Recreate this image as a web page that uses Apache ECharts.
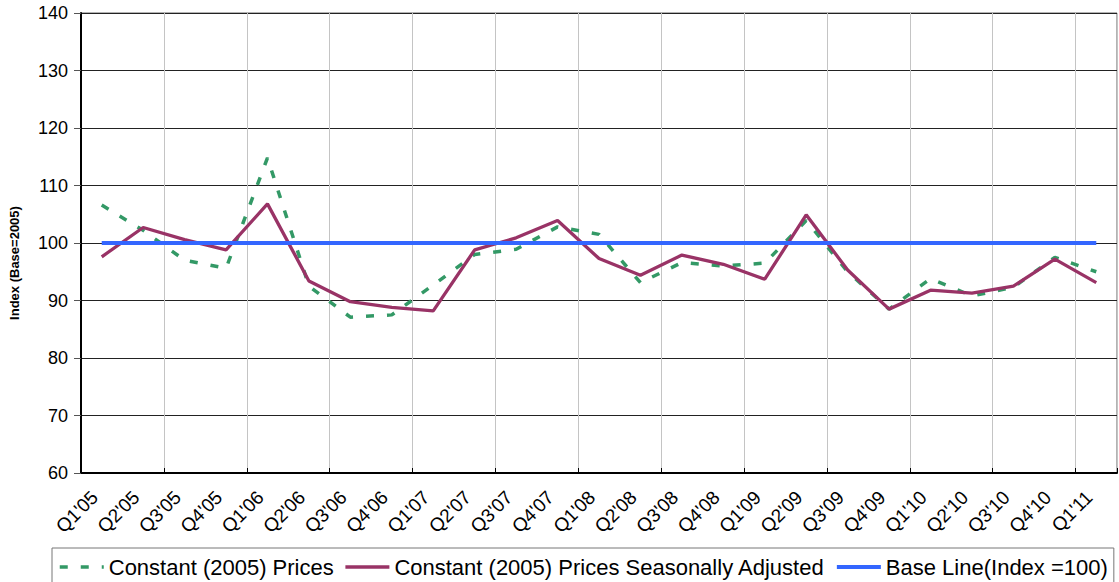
<!DOCTYPE html>
<html>
<head>
<meta charset="utf-8">
<script src="https://cdn.jsdelivr.net/npm/echarts@6/dist/echarts.min.js"></script>
<style>
  html, body { margin: 0; padding: 0; background: #fff; }
  #chart { width: 1119px; height: 582px; }
</style>
</head>
<body>
<div id="chart"></div>
<script>
// Quarterly price index, 2005 = 100
const quarters = [
  "Q1'05", "Q2'05", "Q3'05", "Q4'05",
  "Q1'06", "Q2'06", "Q3'06", "Q4'06",
  "Q1'07", "Q2'07", "Q3'07", "Q4'07",
  "Q1'08", "Q2'08", "Q3'08", "Q4'08",
  "Q1'09", "Q2'09", "Q3'09", "Q4'09",
  "Q1'10", "Q2'10", "Q3'10", "Q4'10",
  "Q1'11"
];

const constantPrices = [
  106.6, 102.2, 97.0, 95.6,
  114.8, 92.5, 87.1, 87.5,
  92.7, 98.0, 98.9, 102.8,
  101.5, 93.1, 96.6, 96.0,
  96.5, 103.9, 95.0, 88.5,
  93.8, 90.8, 92.3, 97.5,
  95.0
];

const seasonallyAdjusted = [
  97.6, 102.7, 100.6, 98.8,
  106.8, 93.4, 89.8, 88.8,
  88.2, 98.8, 100.9, 103.9,
  97.3, 94.4, 97.9, 96.3,
  93.7, 104.9, 95.3, 88.5,
  91.8, 91.3, 92.5, 97.2,
  93.1
];

const baseLineValue = 100;
const baseLine = quarters.map(() => baseLineValue);

const yTicks = { min: 60, max: 140, step: 10 };

const FONT = "'Liberation Sans', Arial, sans-serif";

const chart = echarts.init(document.getElementById('chart'), null, { renderer: 'svg' });

chart.setOption({
  animation: false,
  backgroundColor: '#ffffff',
  textStyle: { fontFamily: FONT, color: '#000' },
  grid: {
    left: 81, right: 2, top: 13, bottom: 109,
    show: true,
    borderColor: '#666',
    borderWidth: 1,
    containLabel: false
  },
  legend: {
    left: 52,
    top: 548,
    padding: [8, 6, 12, 6],
    borderColor: '#777',
    borderWidth: 1,
    itemWidth: 44,
    itemHeight: 14,
    itemGap: 10,
    // line samples only, no point markers
    itemStyle: { opacity: 0 },
    lineStyle: { width: 'inherit' },
    textStyle: { fontFamily: FONT, fontSize: 22, color: '#000' },
    data: [
      'Constant (2005) Prices',
      'Constant (2005) Prices Seasonally Adjusted',
      'Base Line(Index =100)'
    ]
  },
  xAxis: {
    type: 'category',
    data: quarters,
    boundaryGap: true,
    axisLine: { lineStyle: { color: '#000', width: 2 } },
    axisTick: { show: true, inside: true, length: 5, interval: 1, lineStyle: { color: '#000' } },
    axisLabel: {
      interval: 0,
      rotate: 45,
      margin: 14,
      padding: [0, 10, 0, 0],
      fontFamily: FONT,
      fontSize: 19,
      color: '#000'
    },
    splitLine: { show: true, interval: 1, lineStyle: { color: '#c4c4c4', width: 1 } }
  },
  yAxis: {
    type: 'value',
    min: yTicks.min,
    max: yTicks.max,
    interval: yTicks.step,
    name: 'Index (Base=2005)',
    nameLocation: 'middle',
    nameGap: 60,
    nameRotate: 90,
    nameTextStyle: {
      fontFamily: FONT, fontSize: 13, fontWeight: 'bold', color: '#000',
      padding: [0, 40, 0, 0]
    },
    axisLine: { show: true, lineStyle: { color: '#000', width: 2 } },
    axisTick: { show: true, inside: false, length: 7, lineStyle: { color: '#555' } },
    axisLabel: { margin: 13, fontFamily: FONT, fontSize: 18, color: '#000' },
    splitLine: { show: true, lineStyle: { color: '#222', width: 1 } }
  },
  series: [
    {
      name: 'Constant (2005) Prices',
      type: 'line',
      data: constantPrices,
      symbol: 'none',
      lineStyle: { color: '#339966', width: 3.5, type: [8, 13] },
      itemStyle: { color: '#339966' }
    },
    {
      name: 'Constant (2005) Prices Seasonally Adjusted',
      type: 'line',
      data: seasonallyAdjusted,
      symbol: 'none',
      lineStyle: { color: '#993366', width: 3.3 },
      itemStyle: { color: '#993366' }
    },
    {
      name: 'Base Line(Index =100)',
      type: 'line',
      data: baseLine,
      symbol: 'none',
      lineStyle: { color: '#3366ff', width: 4 },
      itemStyle: { color: '#3366ff' }
    }
  ]
});
</script>
</body>
</html>
